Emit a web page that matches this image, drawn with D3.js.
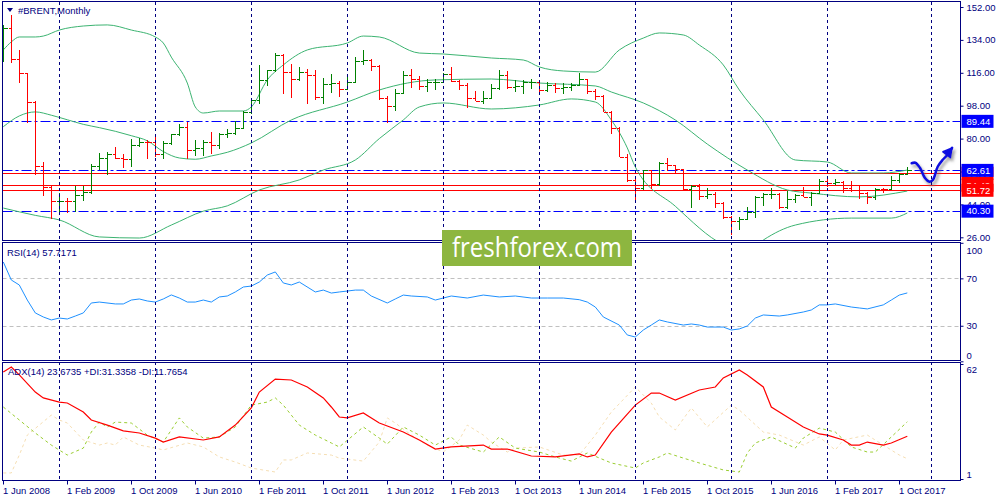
<!DOCTYPE html>
<html><head><meta charset="utf-8">
<script src="https://cdn.jsdelivr.net/npm/d3@7"></script>
<style>
body{margin:0;background:#fff}
svg{display:block}
text{font-family:"Liberation Sans",Arial,sans-serif;font-size:9.5px;fill:#000080}
</style></head>
<body><svg id="c" width="1000" height="500"></svg>
<script>
// ---------- DATA (monthly bars, index 0 = Jun 2008) ----------
const opens = [127.8,140.3,123.8,116.0,100.2,65.0,53.5,45.6,46.0,45.6,49.2,51.0,65.0,69.3,71.7,69.6,69.1,76.6,78.0,77.9,71.5,77.6,82.7,86.2,74.0,75.0,78.0,76.7,82.3,83.2,85.9,94.8,101.0,111.8,117.4,125.9,116.7,112.5,116.7,114.9,102.8,109.6,110.5,107.4,110.9,122.7,122.9,119.5,102.4,97.8,104.9,114.6,112.4,108.7,110.9,111.1,115.5,111.4,109.5,102.2,100.4,102.2,107.7,114.7,108.4,108.8,110.8,110.8,106.4,109.1,107.8,108.1,109.4,112.4,106.0,103.2,94.7,85.9,70.2,57.3,52.9,62.6,55.1,66.8,65.6,63.6,52.2,54.2,48.4,49.6,44.6,37.3,34.7,35.9,39.6,48.1,49.7,49.7,42.5,47.0,49.1,48.3,50.5,56.8,55.7,56.5,52.8,51.7,50.3,47.9,52.6,52.4,57.5,60.9];
const highs = [142.0,147.5,128.5,116.0,100.5,67.0,54.5,50.5,47.7,53.8,54.0,66.0,72.0,72.5,75.2,71.6,80.0,80.2,79.5,82.0,78.5,82.7,88.0,89.0,79.5,79.5,83.5,82.9,85.0,89.4,95.2,101.7,120.0,117.4,127.0,126.5,121.0,119.3,118.0,117.7,113.3,115.5,111.6,114.4,124.4,128.4,123.6,120.4,103.3,107.3,117.0,117.9,114.2,112.7,112.4,116.0,119.2,111.9,110.6,106.2,105.8,109.9,117.3,117.0,111.8,112.3,112.6,110.9,111.1,110.2,110.4,110.6,115.7,112.4,106.9,103.7,95.0,86.3,71.4,58.2,63.0,62.6,67.1,69.6,65.7,63.6,54.8,54.9,53.1,50.9,45.2,37.8,37.0,42.5,48.5,50.5,52.9,50.5,51.2,49.9,53.7,50.6,57.9,58.4,57.7,57.0,56.7,54.6,50.8,52.7,53.0,59.5,61.1,64.7];
const lows = [122.0,121.5,110.5,88.5,60.0,48.5,36.2,39.4,39.4,40.0,46.1,49.5,62.6,60.0,69.0,64.0,64.7,75.2,68.6,69.9,69.0,76.5,81.5,69.0,70.5,70.7,71.5,74.3,80.5,81.8,85.5,93.3,98.7,108.8,116.5,104.5,102.3,111.5,98.8,101.2,99.2,105.1,102.5,107.4,110.2,120.2,117.2,101.1,88.5,95.2,104.4,107.6,106.6,105.6,106.6,110.2,111.1,106.6,96.8,100.4,99.0,101.9,106.6,107.1,105.7,104.6,107.0,104.8,105.3,104.9,104.6,105.9,108.6,104.4,101.0,94.7,82.6,69.8,56.0,45.2,51.9,52.5,54.3,62.1,61.0,51.9,42.2,46.5,47.1,42.0,36.0,27.1,30.0,35.6,36.8,43.1,46.7,41.5,41.5,44.8,48.3,43.1,50.2,53.6,54.6,50.3,50.9,46.8,44.4,46.6,50.2,52.3,55.6,60.2];
const closes = [140.3,123.8,116.0,100.2,65.0,53.5,45.6,46.0,45.6,49.2,51.0,65.0,69.3,71.7,69.6,69.1,76.6,78.0,77.9,71.5,77.6,82.7,86.2,74.0,75.0,78.0,76.7,82.3,83.2,85.9,94.8,101.0,111.8,117.4,125.9,116.7,112.5,116.7,114.9,102.8,109.6,110.5,107.4,110.9,122.7,122.9,119.5,102.4,97.8,104.9,114.6,112.4,108.7,110.9,111.1,115.5,111.4,109.5,102.2,100.4,102.2,107.7,114.7,108.4,108.8,110.8,110.8,106.4,109.1,107.8,108.1,109.4,112.4,106.0,103.2,94.7,85.9,70.2,57.3,52.9,62.6,55.1,66.8,65.6,63.6,52.2,54.2,48.4,49.6,44.6,37.3,34.7,35.9,39.6,48.1,49.7,49.7,42.5,47.0,49.1,48.3,50.5,56.8,55.7,56.5,52.8,51.7,50.3,47.9,52.6,52.4,57.5,60.9,62.6];

// Bollinger bands: [barIndex, value]
const bbUpper = [[0,128.5],[1,132.9],[2,135.6],[4,135.6],[5,136.1],[7,139.4],[10,141.6],[13,142.2],[16,139.4],[19,135.6],[20,132.3],[21,124.6],[23,110.4],[24,97.3],[25,94.0],[27,95.1],[30,95.1],[31,97.3],[33,112.1],[35,120.3],[38,128.5],[43,132.3],[45,136.1],[47,135.6],[52,126.8],[55,126.3],[61,124.1],[65,123.0],[67,119.2],[70,117.0],[74,116.4],[77,128.5],[80,135.0],[82,137.8],[85,136.7],[87,131.2],[90,120.3],[92,106.6],[95,90.2],[99,68.3],[103,67.2],[106,61.2],[110,61.2],[113,62.8]];
const bbMiddle = [[0,86.5],[2,92.4],[4,94.6],[6,92.8],[8,90.3],[10,87.8],[12,86.0],[14,84.0],[16,81.6],[18,78.8],[20,72.9],[22,69.4],[24,68.7],[26,70.5],[28,72.5],[31,77.6],[36,90.2],[43,100.0],[47,106.6],[54,112.1],[61,112.6],[67,110.4],[74,108.8],[76,105.5],[80,99.5],[84,90.2],[88,77.0],[93,62.8],[98,51.9],[101,50.2],[107,48.1],[113,51.3]];
const bbLower = [[0,42.0],[4,38.0],[7,35.5],[12,26.2],[17,25.6],[21,32.7],[25,40.3],[28,43.2],[32,51.9],[37,57.4],[40,62.8],[44,68.3],[47,80.0],[50,90.2],[52,97.3],[55,99.5],[61,96.2],[67,98.4],[71,101.7],[74,100.0],[76,90.2],[78,74.9],[79,64.5],[84,43.0],[90,22.0],[93,18.0],[95,24.5],[99,32.7],[106,36.5],[111,36.5],[113,39.3]];

const rsi = [[0,83.8],[1,68.6],[2,64.4],[3,51.7],[4,40.8],[5,37.4],[6,34.9],[7,36.5],[8,35.7],[9,38.2],[10,40.8],[11,49.2],[12,50.0],[14,48.4],[15,48.4],[16,51.7],[17,52.6],[18,50.9],[19,50.0],[20,52.6],[21,56.0],[22,53.4],[23,50.0],[24,50.0],[25,51.7],[26,50.0],[27,54.3],[28,55.1],[29,58.5],[30,62.7],[31,63.5],[32,66.9],[33,72.8],[34,75.4],[35,66.1],[36,64.4],[37,66.9],[39,58.5],[40,60.1],[41,57.6],[42,58.5],[44,60.1],[45,60.1],[46,55.1],[48,49.2],[49,52.6],[50,55.9],[51,55.1],[53,54.3],[54,51.7],[55,53.4],[56,55.1],[58,53.4],[60,55.9],[62,54.3],[64,55.1],[66,53.4],[68,53.4],[70,53.4],[72,52.0],[73,50.0],[74,45.8],[75,37.4],[77,30.6],[78,22.2],[79,20.5],[80,26.4],[81,30.6],[82,34.9],[83,33.2],[85,30.6],[86,31.5],[87,30.6],[88,28.9],[90,28.9],[91,26.4],[92,27.3],[93,29.8],[94,36.5],[95,39.1],[97,38.2],[98,39.1],[100,41.6],[101,43.3],[102,47.6],[103,47.6],[104,48.4],[106,45.8],[107,45.0],[108,44.2],[110,47.6],[111,51.7],[112,55.9],[113,57.7]];

const adx = [[0,57.8],[1,60.4],[2,56.2],[4,47.1],[5,44.0],[7,41.8],[8,41.3],[10,36.5],[11,32.3],[13,29.6],[15,26.5],[17,25.4],[19,22.7],[20,20.6],[22,23.3],[25,21.7],[27,23.3],[29,29.6],[31,38.7],[32,47.1],[34,54.0],[36,53.5],[38,49.8],[40,44.0],[41,39.2],[42,33.9],[43,33.4],[45,36.0],[47,30.7],[50,25.9],[52,21.7],[54,16.9],[56,18.0],[60,19.0],[61,16.9],[63,16.9],[66,13.2],[69,12.7],[72,14.3],[73,12.7],[74,13.7],[76,25.9],[79,40.2],[81,46.6],[82,46.6],[84,42.9],[87,48.2],[89,49.8],[90,54.6],[92,58.8],[93,56.2],[95,49.8],[96,39.2],[98,33.9],[100,28.6],[102,24.9],[103,24.3],[105,21.7],[106,19.0],[107,19.0],[108,20.6],[110,19.0],[111,20.1],[113,23.67]];
const plusDI = [[0,39.2],[2,32.3],[4,25.4],[6,19.0],[8,13.7],[10,17.4],[11,25.9],[12,31.2],[13,28.6],[14,31.2],[16,30.7],[18,24.3],[20,20.6],[22,33.4],[23,28.6],[25,22.7],[27,23.3],[29,28.6],[31,40.2],[33,41.8],[34,44.0],[35,40.2],[37,29.6],[39,24.3],[41,20.1],[42,18.0],[45,28.6],[47,22.7],[48,19.5],[50,28.6],[52,24.3],[54,19.0],[56,23.3],[57,19.0],[60,15.3],[62,23.3],[64,17.4],[67,15.3],[69,12.7],[71,10.5],[73,14.8],[76,9.5],[79,6.8],[80,9.5],[82,12.7],[83,14.8],[85,12.1],[87,9.5],[90,5.8],[92,4.7],[93,14.8],[94,20.1],[96,23.3],[99,17.4],[100,22.7],[102,28.0],[104,25.9],[106,18.0],[108,15.3],[109,15.3],[111,23.3],[113,31.34]];
const minusDI = [[0,4.2],[1,4.2],[2,13.7],[3,24.3],[6,34.9],[7,32.3],[8,30.7],[10,21.7],[12,19.0],[13,20.1],[14,19.0],[15,23.3],[17,19.0],[19,17.4],[20,16.4],[23,20.1],[25,18.0],[27,12.7],[29,10.0],[31,6.8],[34,4.7],[35,11.1],[36,11.1],[38,14.8],[41,13.7],[42,12.1],[45,10.5],[47,20.6],[48,33.4],[49,30.7],[51,24.3],[53,19.0],[55,15.3],[57,21.7],[58,29.6],[60,24.3],[61,20.6],[63,15.3],[64,17.4],[67,18.0],[70,13.7],[72,13.7],[74,24.3],[76,36.5],[79,49.8],[81,41.3],[82,33.9],[84,27.0],[86,38.7],[88,28.6],[91,40.2],[92,37.6],[95,25.9],[97,24.3],[100,19.0],[102,23.3],[104,16.4],[105,21.7],[108,24.3],[110,19.0],[112,13.7],[113,11.77]];

const priceTicks = [152,134,116,98,80,62,44,26];
const hiddenPriceLabels = [62];   // label covered by the 62.61 tag in the reference
const rsiTicks = [100,70,30,0];
const rsiLevels = [70,30];
const adxTicks = [62,1];
const xTickIdx = [0,8,16,24,32,40,48,56,64,72,80,88,96,104,112];
const xTickLabels = ["1 Jun 2008","1 Feb 2009","1 Oct 2009","1 Jun 2010","1 Feb 2011","1 Oct 2011","1 Jun 2012","1 Feb 2013","1 Oct 2013","1 Jun 2014","1 Feb 2015","1 Oct 2015","1 Jun 2016","1 Feb 2017","1 Oct 2017"];
const gridIdx = [7,19,31,43,55,67,79,91,103,116];
const blueLevels = [89.44,62.61,40.30];
const redLevels = [61.05,54.49,51.72];
const trendLine = [[108.6,51.25],[119,51.25]];
const arrowPath = [[113.55,66.5],[114.0,66.8],[114.6,63.9],[115.2,58.5],[115.8,56.4],[116.2,57.4],[116.8,64.6],[117.4,68.3],[118.0,71.0],[118.6,74.9]];
const titleText = "#BRENT,Monthly";
const rsiText = "RSI(14) 57.7171";
const adxText = "ADX(14) 23.6735 +DI:31.3358 -DI:11.7654";
const watermark = "freshforex.com";

// ---------- LAYOUT ----------
const L = 2.5, R = 960.5;
const panels = {main:[1.5,240.5], rsi:[242.5,360.5], adx:[362.5,480.5]};
const x = d3.scaleLinear().domain([0,1]).range([3.3,11.3]);
const yP = d3.scaleLinear().domain([26,152]).range([237.3,7]);
const yR = d3.scaleLinear().domain([0,100]).range([361.3,242.8]);
const yA = d3.scaleLinear().domain([1,62]).range([479,364]);
const NAVY = "#000080";

const svg = d3.select("#c");
const defs = svg.append("defs");
Object.entries(panels).forEach(([k,[t,b]])=>{
  defs.append("clipPath").attr("id","clip-"+k).append("rect").attr("x",L).attr("y",t).attr("width",R-L).attr("height",b-t);
});
const sh = defs.append("filter").attr("id","shadow").attr("x","-20%").attr("y","-50%").attr("width","140%").attr("height","200%");
sh.append("feDropShadow").attr("dx",2).attr("dy",3).attr("stdDeviation",1.6).attr("flood-color","#777").attr("flood-opacity",0.7);

const gMain = svg.append("g").attr("clip-path","url(#clip-main)");
const gRsi = svg.append("g").attr("clip-path","url(#clip-rsi)");
const gAdx = svg.append("g").attr("clip-path","url(#clip-adx)");

// vertical grid
svg.append("g").selectAll("line").data(gridIdx).join("line")
  .attr("x1",d=>Math.round(x(d))+0.5).attr("x2",d=>Math.round(x(d))+0.5)
  .attr("y1",2).attr("y2",480).attr("stroke",NAVY).attr("stroke-dasharray","3,3").attr("stroke-width",1);

// horizontal levels
gMain.selectAll(".bl").data(blueLevels).join("line")
  .attr("x1",L).attr("x2",R).attr("y1",d=>Math.round(yP(d))+0.5).attr("y2",d=>Math.round(yP(d))+0.5)
  .attr("stroke","#0000ff").attr("stroke-width",1.2).attr("stroke-dasharray","10,3,3,3");
gMain.selectAll(".rl").data(redLevels).join("line")
  .attr("x1",L).attr("x2",R).attr("y1",d=>Math.round(yP(d))+0.5).attr("y2",d=>Math.round(yP(d))+0.5)
  .attr("stroke","#ff0000").attr("stroke-width",1);

// Bollinger
const lineP = d3.line().x(d=>x(d[0])).y(d=>yP(d[1])).curve(d3.curveMonotoneX);
[bbUpper,bbMiddle,bbLower].forEach(s=>{
  gMain.append("path").attr("d",lineP(s)).attr("fill","none").attr("stroke","#3cb371").attr("stroke-width",1);
});

// OHLC bars
const bars = closes.map((c,i)=>({i,o:opens[i],h:highs[i],l:lows[i],c}));
const gb = gMain.append("g").attr("shape-rendering","crispEdges");
bars.forEach(b=>{
  const col = b.c>=b.o ? "#008000" : "#ff0000";
  const xc = Math.round(x(b.i))+0.5;
  gb.append("line").attr("x1",xc).attr("x2",xc).attr("y1",yP(b.h)).attr("y2",yP(b.l)).attr("stroke",col);
  gb.append("line").attr("x1",xc-3).attr("x2",xc).attr("y1",Math.round(yP(b.o))+0.5).attr("y2",Math.round(yP(b.o))+0.5).attr("stroke",col);
  gb.append("line").attr("x1",xc).attr("x2",xc+4).attr("y1",Math.round(yP(b.c))+0.5).attr("y2",Math.round(yP(b.c))+0.5).attr("stroke",col);
});

// annotations
gMain.append("path").attr("d",d3.line().x(d=>x(d[0])).y(d=>yP(d[1]))(trendLine))
  .attr("stroke","#d00000").attr("stroke-width",3).attr("fill","none").attr("filter","url(#shadow)");
const ag = gMain.append("g").attr("filter","url(#shadow)");
ag.append("path").attr("d",d3.line().x(d=>x(d[0])).y(d=>yP(d[1])).curve(d3.curveCatmullRom)(arrowPath))
  .attr("stroke","#1010e0").attr("stroke-width",2.6).attr("fill","none").attr("stroke-linecap","round");
{
  const tip = arrowPath[arrowPath.length-1], pre = arrowPath[arrowPath.length-3];
  const tx=x(tip[0]), ty=yP(tip[1]), px=x(pre[0]), py=yP(pre[1]);
  const ang = Math.atan2(ty-py, tx-px);
  const len=10, w=0.5;
  const p1=[tx-len*Math.cos(ang-w), ty-len*Math.sin(ang-w)];
  const p2=[tx-len*Math.cos(ang+w), ty-len*Math.sin(ang+w)];
  ag.append("path").attr("d",`M${p1}L${tx},${ty}L${p2}Z`).attr("fill","#1010e0").attr("stroke","#1010e0").attr("stroke-width",1.5).attr("stroke-linejoin","round");
}

// RSI
gRsi.selectAll(".lv").data(rsiLevels).join("line")
  .attr("x1",L).attr("x2",R).attr("y1",d=>Math.round(yR(d))+0.5).attr("y2",d=>Math.round(yR(d))+0.5)
  .attr("stroke","#c0c0c0").attr("stroke-dasharray","4,3");
gRsi.append("path").attr("d",d3.line().x(d=>x(d[0])).y(d=>yR(d[1]))(rsi))
  .attr("fill","none").attr("stroke","#1e90ff").attr("stroke-width",1);

// ADX
const lineA = d3.line().x(d=>x(d[0])).y(d=>yA(d[1]));
gAdx.append("path").attr("d",lineA(minusDI)).attr("fill","none").attr("stroke","#f5deb3").attr("stroke-dasharray","3,3");
gAdx.append("path").attr("d",lineA(plusDI)).attr("fill","none").attr("stroke","#9acd32").attr("stroke-dasharray","3,3");
gAdx.append("path").attr("d",lineA(adx)).attr("fill","none").attr("stroke","#ff0000").attr("stroke-width",1.2);

// frames
const gf = svg.append("g").attr("fill","none").attr("stroke",NAVY).attr("shape-rendering","crispEdges");
Object.values(panels).forEach(([t,b])=>{
  gf.append("rect").attr("x",L).attr("y",t).attr("width",R-L).attr("height",b-t);
});

// right axes
const axP = svg.append("g").attr("transform",`translate(${R},0)`)
  .call(d3.axisRight(yP).tickValues(priceTicks).tickFormat(d=>hiddenPriceLabels.includes(d)?"":d3.format(".2f")(d)).tickSize(3).tickPadding(3));
const axR = svg.append("g").attr("transform",`translate(${R},0)`)
  .call(d3.axisRight(yR).tickValues(rsiTicks).tickFormat(d3.format("d")).tickSize(3).tickPadding(3));
const axA = svg.append("g").attr("transform",`translate(${R},0)`)
  .call(d3.axisRight(yA).tickValues(adxTicks).tickFormat(d3.format("d")).tickSize(3).tickPadding(3));
[axP,axR,axA].forEach(a=>{a.select(".domain").remove(); a.selectAll("line").attr("stroke",NAVY); a.selectAll("text").attr("fill",NAVY).style("font-size","9.5px").attr("font-family",null);});
axR.selectAll("text").attr("dy",d=> d===100? "1.1em" : d===0 ? "-0.3em" : "0.32em");
axA.selectAll("text").attr("dy",d=> d===62? "0.85em" : "-0.2em");

// price highlight labels
function tag(v,col){
  const g = svg.append("g").attr("transform",`translate(${R+1},${yP(v)})`);
  g.append("rect").attr("x",0).attr("y",-6.5).attr("width",32).attr("height",13).attr("fill",col);
  g.append("text").attr("x",5).attr("dy","0.35em").text(v.toFixed(2)).style("fill","#fff");
}
redLevels.forEach(v=>tag(v,"#ff0000"));
blueLevels.forEach(v=>tag(v,"#0000ff"));

// bottom axis
const axX = svg.append("g").attr("transform","translate(0,480.5)")
  .call(d3.axisBottom(x).tickValues(xTickIdx).tickFormat((d,i)=>xTickLabels[i]).tickSize(4).tickPadding(3));
axX.select(".domain").remove();
axX.selectAll("line").attr("stroke",NAVY);
axX.selectAll("text").attr("text-anchor","start").attr("x",-0.5).attr("fill",NAVY).style("font-size","9.5px").attr("font-family",null);
axX.selectAll(".tick").attr("transform",d=>`translate(${Math.round(x(d))+0.5},0)`);

// watermark
const wm = svg.append("g");
wm.append("rect").attr("x",442).attr("y",230).attr("width",190).attr("height",36).attr("fill","#8db640");
wm.append("text").attr("x",537).attr("y",257).attr("text-anchor","middle").attr("textLength",170).attr("lengthAdjust","spacingAndGlyphs")
  .style("font-family","'Open Sans',sans-serif").style("font-size","27px").style("fill","#fff").text(watermark);

// titles
svg.append("path").attr("d","M7,8L13,8L10,12Z").attr("fill",NAVY);
svg.append("text").attr("x",18).attr("y",14).text(titleText);
svg.append("text").attr("x",7).attr("y",256).text(rsiText);
svg.append("text").attr("x",8).attr("y",375).text(adxText);
</script></body></html>
